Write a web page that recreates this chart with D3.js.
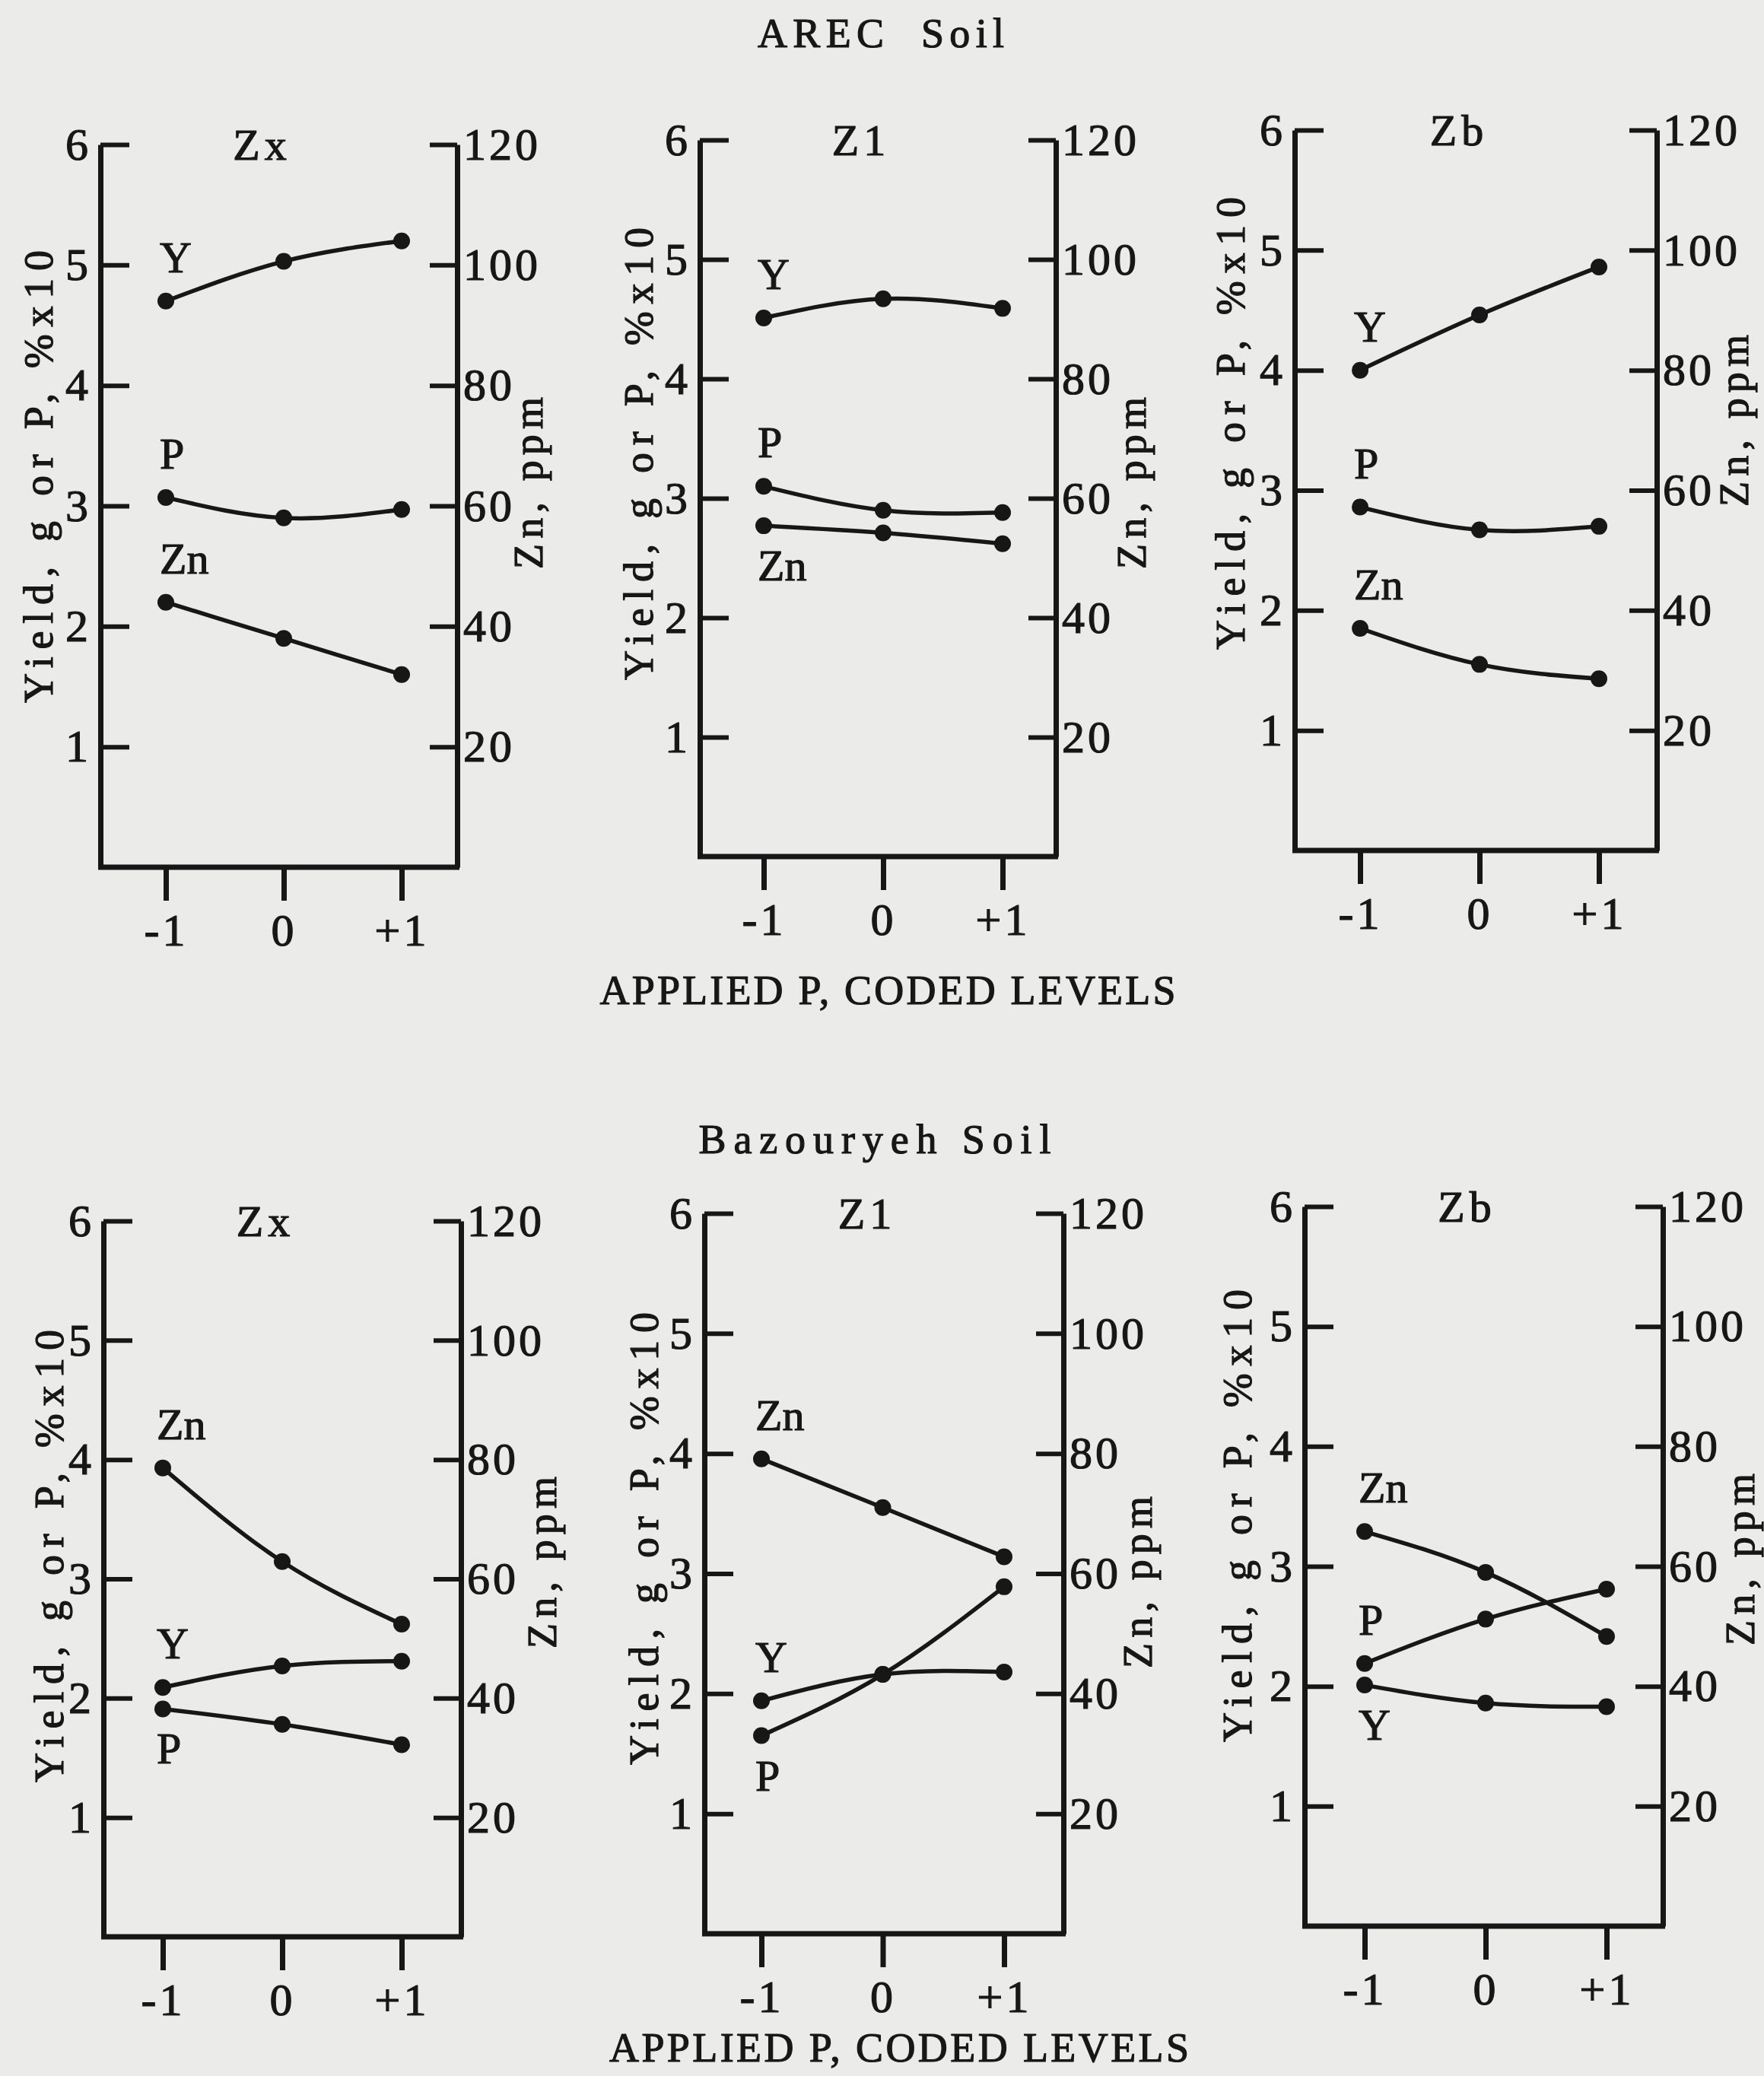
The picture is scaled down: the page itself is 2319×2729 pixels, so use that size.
<!DOCTYPE html>
<html>
<head>
<meta charset="utf-8">
<script src="https://cdn.jsdelivr.net/npm/d3@7"></script>
<style>
  body { margin: 0; background: #ebebea; }
  svg { display: block; }
  .type { font-family: "Liberation Serif", "DejaVu Serif", serif; }
</style>
</head>
<body>
<div id="chart"></div>
<script>
const width = 2319,
  height = 2729;
const ink = "#171717";

// ************************************
// Data
// ************************************
const soils = ["AREC  Soil", "Bazouryeh Soil"];
const sources = ["Zx", "Z1", "Zb"];
const levels = [-1, 0, 1];
const levelLabels = ["-1", "0", "+1"];
const yieldTicks = [1, 2, 3, 4, 5, 6];
const znTicks = [20, 40, 60, 80, 100, 120];
const seriesNames = ["Y", "P", "Zn"];

// panels in order: AREC Zx, Z1, Zb, Bazouryeh Zx, Z1, Zb
const yieldG = [
  [4.70, 5.03, 5.20],
  [4.51, 4.67, 4.59],
  [4.00, 4.46, 4.86],
  [2.09, 2.27, 2.31],
  [1.94, 2.16, 2.18],
  [2.01, 1.86, 1.83]
];
const plantP = [
  [3.07, 2.90, 2.97],
  [3.10, 2.90, 2.88],
  [2.86, 2.67, 2.70],
  [1.91, 1.78, 1.61],
  [1.65, 2.16, 2.89],
  [2.19, 2.56, 2.81]
];
const plantZn = [
  [44.0, 38.0, 32.0],
  [55.4, 54.2, 52.4],
  [37.0, 31.0, 28.6],
  [78.6, 62.9, 52.4],
  [79.1, 71.0, 62.8],
  [65.8, 59.0, 48.3]
];
// which series label sits under its first point (the rest sit above)
const labelBelow = [[], ["Zn"], [], ["P"], ["P"], ["Y"]];

// ************************************
// Layout of the six hand drawn frames
// ************************************
const frames = [
  {x0: 132, x1: 601, y6: 190, y0: 1140, xa: 218, xb: 528, lx: 52, ly: 627, rx: 696, ry: 635},
  {x0: 920, x1: 1388, y6: 184, y0: 1126, xa: 1004, xb: 1318, lx: 841, ly: 597, rx: 1489, ry: 635},
  {x0: 1702, x1: 2178, y6: 171, y0: 1118, xa: 1788, xb: 2102, lx: 1619, ly: 557, rx: 2281, ry: 553},
  {x0: 136, x1: 606, y6: 1605, y0: 2546, xa: 214, xb: 528, lx: 66, ly: 2046, rx: 714, ry: 2054},
  {x0: 926, x1: 1398, y6: 1595, y0: 2542, xa: 1001, xb: 1320, lx: 848, ly: 2023, rx: 1497, ry: 2080},
  {x0: 1715, x1: 2186, y6: 1586, y0: 2532, xa: 1794, xb: 2112, lx: 1628, ly: 1993, rx: 2289, ry: 2050}
];

const svg = d3.select("#chart").append("svg")
  .attr("width", width)
  .attr("height", height);

svg.append("rect")
  .attr("width", width)
  .attr("height", height)
  .attr("fill", "#ebebea");

// typewriter look: serif text, spread out, inked a bit heavier
function typed(sel, size, len) {
  sel.attr("class", "type")
    .attr("font-size", size)
    .attr("fill", ink)
    .attr("stroke", ink)
    .attr("stroke-width", 1.2)
    .style("white-space", "pre");
  if (len) sel.attr("textLength", len).attr("lengthAdjust", "spacing");
  return sel;
}

// headings
const headings = [
  {text: soils[0], x: 1158, y: 62, len: 324},
  {text: "APPLIED P, CODED LEVELS", x: 1167, y: 1320, len: 757},
  {text: soils[1], x: 1150, y: 1516, len: 463},
  {text: "APPLIED P, CODED LEVELS", x: 1182, y: 2710, len: 762}
];
headings.forEach(function(h) {
  svg.append("text")
    .attr("x", h.x - h.len / 2)
    .attr("y", h.y)
    .text(h.text)
    .call(typed, 54, h.len);
});

frames.forEach(function(f, i) {
  drawPanel(f, i);
});

function drawPanel(f, i) {
  const g = svg.append("g").attr("class", "panel");

  const x = d3.scaleLinear().domain([-1, 1]).range([f.xa, f.xb]);
  const yL = d3.scaleLinear().domain([0, 6]).range([f.y0, f.y6]);
  const yR = d3.scaleLinear().domain([0, 120]).range([f.y0, f.y6]);

  // left axis, ticks pointing inward
  const left = g.append("g")
    .attr("transform", "translate(" + f.x0 + ",0)")
    .call(d3.axisLeft(yL).tickValues(yieldTicks).tickFormat(d3.format("d"))
      .tickSize(-38).tickSizeOuter(0).tickPadding(12));

  // right axis, ticks pointing inward
  const right = g.append("g")
    .attr("transform", "translate(" + f.x1 + ",0)")
    .call(d3.axisRight(yR).tickValues(znTicks).tickFormat(d3.format("d"))
      .tickSize(-36).tickSizeOuter(0).tickPadding(8));

  // bottom axis with long ticks hanging down
  const bottom = g.append("g")
    .attr("transform", "translate(0," + f.y0 + ")")
    .call(d3.axisBottom(x).tickValues(levels).tickSize(44).tickPadding(16)
      .tickFormat((d, k) => levelLabels[k]));
  bottom.select(".domain").remove();

  g.append("line")
    .attr("x1", f.x0 - 3)
    .attr("x2", f.x1 + 3)
    .attr("y1", f.y0)
    .attr("y2", f.y0)
    .attr("stroke", ink)
    .attr("stroke-width", 7);

  [left, right].forEach(function(ax) {
    ax.select(".domain").attr("stroke", ink).attr("stroke-width", 7);
    ax.selectAll(".tick line").attr("stroke", ink).attr("stroke-width", 6);
  });
  bottom.selectAll(".tick line").attr("stroke", ink).attr("stroke-width", 7);

  g.selectAll(".tick text")
    .attr("font-family", null)
    .attr("letter-spacing", 4)
    .call(typed, 60);

  // panel title
  g.append("text")
    .attr("x", (f.x0 + f.x1) / 2 - 22)
    .attr("y", f.y6 + 20)
    .attr("text-anchor", "middle")
    .attr("letter-spacing", 6)
    .text(sources[i % 3])
    .call(typed, 58);

  // axis titles
  g.append("text")
    .attr("transform", "translate(" + (f.lx + 17) + "," + (f.ly + 297) + ") rotate(-90)")
    .text("Yield, g or P, %x10")
    .call(typed, 54, 595);

  g.append("text")
    .attr("transform", "translate(" + (f.rx + 17) + "," + (f.ry + 113) + ") rotate(-90)")
    .text("Zn, ppm")
    .call(typed, 54, 226);

  // series
  const series = [
    {name: seriesNames[0], values: yieldG[i], y: yL},
    {name: seriesNames[1], values: plantP[i], y: yL},
    {name: seriesNames[2], values: plantZn[i], y: yR}
  ];

  series.forEach(function(s) {
    const pts = s.values.map((v, k) => [x(levels[k]), s.y(v)]);
    const line = d3.line().curve(d3.curveNatural);

    g.append("path")
      .attr("d", line(pts))
      .attr("fill", "none")
      .attr("stroke", ink)
      .attr("stroke-width", 5.5);

    g.selectAll(null).data(pts).enter()
      .append("circle")
      .attr("cx", d => d[0])
      .attr("cy", d => d[1])
      .attr("r", 11)
      .attr("fill", ink);

    const below = labelBelow[i].indexOf(s.name) >= 0;
    g.append("text")
      .attr("x", pts[0][0] - 8)
      .attr("y", pts[0][1] + (below ? 72 : -38))
      .text(s.name)
      .call(typed, 58);
  });
}
</script>
</body>
</html>
